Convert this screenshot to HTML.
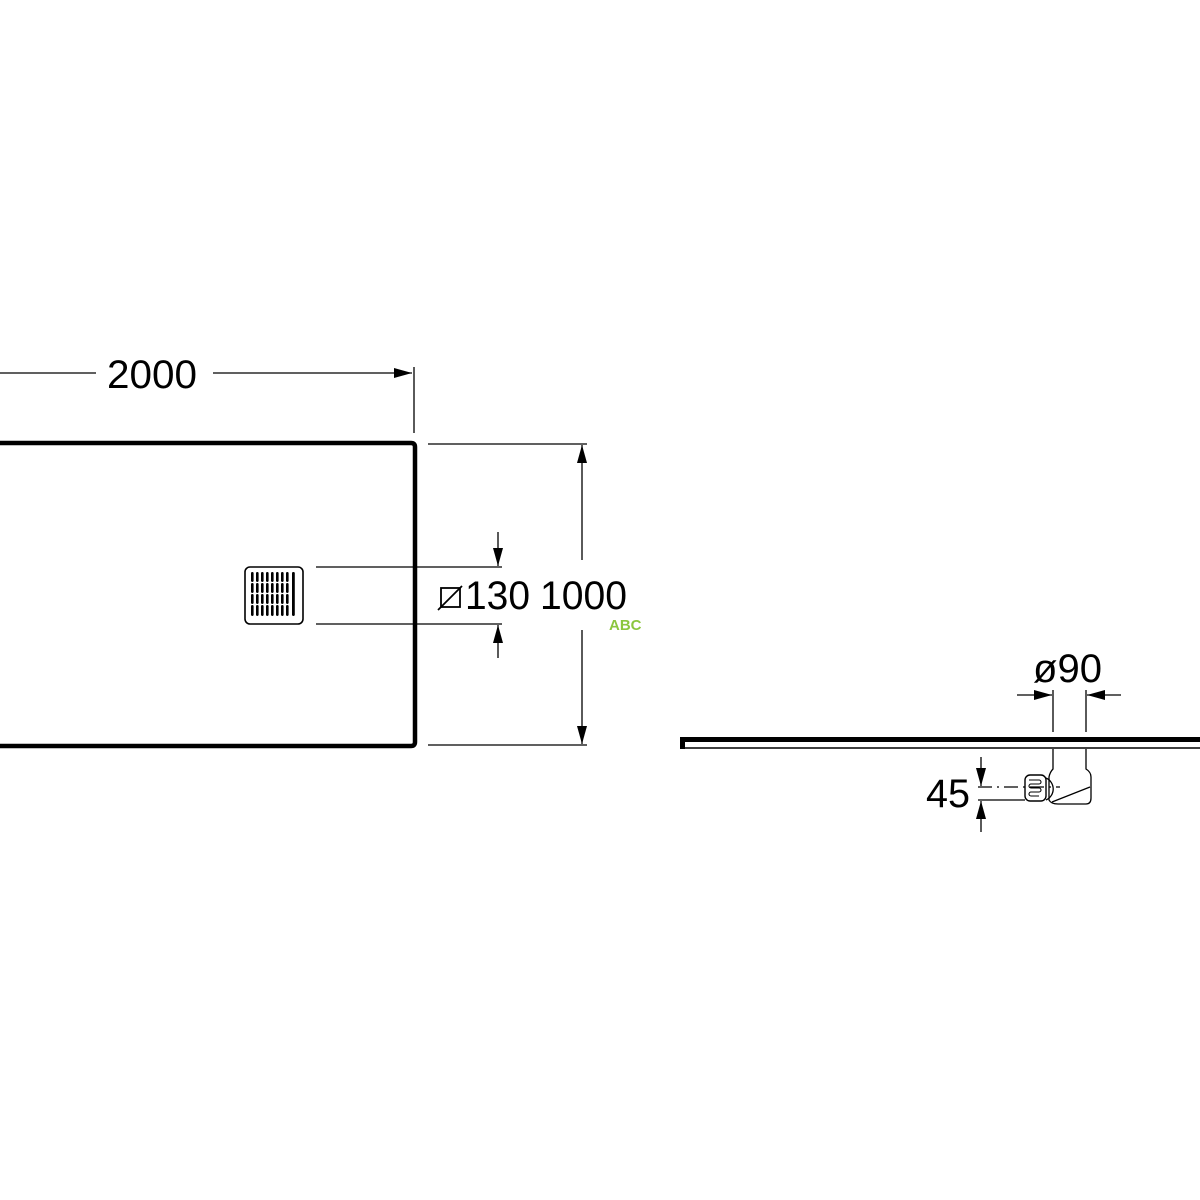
<!DOCTYPE html>
<html><head><style>html,body{margin:0;padding:0;background:#fff;width:1200px;height:1200px;overflow:hidden}</style></head>
<body>
<svg width="1200" height="1200" viewBox="0 0 1200 1200" xmlns="http://www.w3.org/2000/svg" font-family="Liberation Sans, sans-serif">
<defs>
<marker id="a" markerWidth="18" markerHeight="10" refX="18" refY="5" orient="auto" markerUnits="userSpaceOnUse"><path d="M0,0 L18,5 L0,10 Z" fill="#000"/></marker>
</defs>
<g stroke="#000" fill="none">
<path d="M-10,443 H411 Q415,443 415,447 V742 Q415,746 411,746 H-10" stroke-width="4.5"/>
<line x1="0" y1="373" x2="96" y2="373" stroke-width="1.3"/>
<line x1="213" y1="373" x2="412" y2="373" stroke-width="1.3" marker-end="url(#a)"/>
<line x1="414" y1="367" x2="414" y2="433" stroke-width="1.3"/>
<line x1="428" y1="444" x2="587" y2="444" stroke-width="1.3"/>
<line x1="428" y1="745" x2="587" y2="745" stroke-width="1.3"/>
<line x1="582" y1="560" x2="582" y2="445" stroke-width="1.3" marker-end="url(#a)"/>
<line x1="582" y1="630" x2="582" y2="744" stroke-width="1.3" marker-end="url(#a)"/>
<rect x="245" y="567" width="58" height="57" rx="5" stroke-width="1.6"/>
<line x1="316" y1="567" x2="502" y2="567" stroke-width="1.3"/>
<line x1="316" y1="624" x2="502" y2="624" stroke-width="1.3"/>
<line x1="498" y1="532" x2="498" y2="566" stroke-width="1.3" marker-end="url(#a)"/>
<line x1="498" y1="658" x2="498" y2="625" stroke-width="1.3" marker-end="url(#a)"/>
<rect x="441" y="588" width="19" height="19" stroke-width="1.8"/>
<line x1="438" y1="610" x2="462" y2="586" stroke-width="1.8"/>
<path d="M682.5,749 V739.5 H1200" stroke-width="5"/>
<line x1="682" y1="748" x2="1200" y2="748" stroke-width="1.5"/>
<line x1="1053" y1="690" x2="1053" y2="732" stroke-width="1.3"/>
<line x1="1086" y1="690" x2="1086" y2="732" stroke-width="1.3"/>
<line x1="1017" y1="695" x2="1052" y2="695" stroke-width="1.3" marker-end="url(#a)"/>
<line x1="1121" y1="695" x2="1087" y2="695" stroke-width="1.3" marker-end="url(#a)"/>
<path d="M1053,749 V769 Q1050,772 1049,777 V800 Q1051,804 1058,804 H1086 Q1091,804 1091,798 V777 Q1091,772 1086,769 V749" stroke-width="1.3"/>
<line x1="1052" y1="802" x2="1090" y2="787" stroke-width="1.3"/>
<path d="M1046,778 A12,12 0 0 1 1046,800" stroke-width="1.3"/>
<rect x="1025" y="775" width="21" height="26" rx="5" stroke-width="1.4"/>
<path d="M1029,780 h10 a2,2 0 0 1 0,4 h-8 a2,2 0 0 0 0,4 h8 a2,2 0 0 1 0,4 h-8 a2,2 0 0 0 0,4 h8" stroke-width="1.1"/>
<line x1="978" y1="787" x2="1060" y2="787" stroke-width="1.3" stroke-dasharray="14,5,2,5"/>
<line x1="978" y1="800" x2="1025" y2="800" stroke-width="1.3"/>
<line x1="981" y1="757" x2="981" y2="786" stroke-width="1.3" marker-end="url(#a)"/>
<line x1="981" y1="832" x2="981" y2="801" stroke-width="1.3" marker-end="url(#a)"/>
</g>
<g fill="#000">
<g id="col">
<rect x="251" y="572" width="2.6" height="10" rx="1.2"/>
<rect x="251" y="583" width="2.6" height="10" rx="1.2"/>
<rect x="251" y="594" width="2.6" height="10" rx="1.2"/>
<rect x="251" y="605" width="2.6" height="11" rx="1.2"/>
</g>
<use href="#col" x="5"/><use href="#col" x="10"/><use href="#col" x="15"/><use href="#col" x="20"/>
<use href="#col" x="25"/><use href="#col" x="30"/><use href="#col" x="35"/>
<rect x="292" y="572" width="2.8" height="44" rx="1.2"/>
</g>
<g font-size="40" fill="#000">
<text x="107" y="388" textLength="90" lengthAdjust="spacingAndGlyphs">2000</text>
<text x="465" y="609" textLength="65" lengthAdjust="spacingAndGlyphs">130</text>
<text x="540" y="609" textLength="87" lengthAdjust="spacingAndGlyphs">1000</text>
<text x="1033" y="682" textLength="69" lengthAdjust="spacingAndGlyphs">ø90</text>
<text x="926" y="807" textLength="44" lengthAdjust="spacingAndGlyphs">45</text>
</g>
<text x="609" y="630" font-size="15" font-weight="bold" fill="#8cc63f">ABC</text>
</svg>
</body></html>
